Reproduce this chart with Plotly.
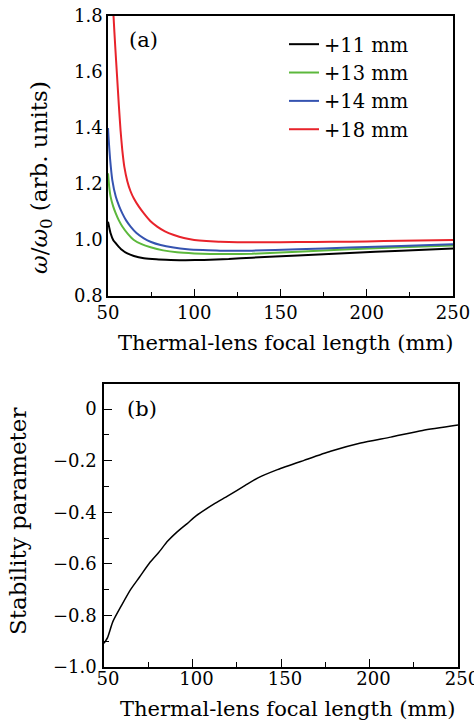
import plotly.graph_objects as go

# ---- Panel (a) data ----
x_11 = [50, 50.7, 51.5, 53, 55.4, 58, 61.2, 65, 70.8, 78, 86.3, 95, 105.6, 120, 133.5, 160, 190, 220, 250]
y_11 = [1.065, 1.045, 1.024, 1.0, 0.982, 0.965, 0.952, 0.943, 0.935, 0.931, 0.929, 0.928, 0.929, 0.932, 0.937, 0.945, 0.954, 0.962, 0.970]

x_13 = [50, 50.7, 51.5, 53, 54.5, 56.3, 58.3, 61.5, 65, 69.5, 74.7, 82, 90, 100, 109.4, 120, 133.5, 160, 190, 220, 250]
y_13 = [1.238, 1.19, 1.155, 1.12, 1.095, 1.07, 1.048, 1.022, 1.0, 0.985, 0.974, 0.963, 0.956, 0.952, 0.950, 0.950, 0.951, 0.958, 0.967, 0.974, 0.980]

x_14 = [50, 50.5, 51.2, 52.5, 54.5, 56.5, 58.3, 60.5, 63.1, 66.5, 70.8, 75, 80.5, 88, 96, 105, 115, 133.5, 160, 190, 220, 250]
y_14 = [1.40, 1.35, 1.29, 1.214, 1.155, 1.12, 1.095, 1.07, 1.048, 1.025, 1.006, 0.993, 0.982, 0.973, 0.967, 0.964, 0.962, 0.962, 0.967, 0.973, 0.979, 0.985]

x_18 = [52.6, 53.2, 54.2, 55.2, 56.3, 57.3, 58.3, 59.5, 61.2, 63, 65, 67.8, 70.8, 74.5, 78.5, 83, 88.2, 94, 100, 107, 115, 125, 135, 150, 170, 190, 210, 230, 250]
y_18 = [1.92, 1.80, 1.69, 1.59, 1.48, 1.39, 1.32, 1.26, 1.21, 1.175, 1.148, 1.12, 1.095, 1.068, 1.048, 1.031, 1.018, 1.007, 1.0, 0.996, 0.994, 0.992, 0.992, 0.992, 0.993, 0.994, 0.996, 0.998, 1.0]

series_names = ["+11 mm", "+13 mm", "+14 mm", "+18 mm"]
series_colors = ["#000000", "#5cb83c", "#3553b0", "#e8232b"]

# ---- Panel (b) data ----
x_stab = [50, 52, 55, 60, 65, 70, 76, 81, 86, 91, 97, 102, 112, 120, 130, 137, 148, 163, 178, 195, 212, 230, 250]
y_stab = [-0.908, -0.886, -0.824, -0.760, -0.700, -0.652, -0.594, -0.555, -0.512, -0.478, -0.444, -0.414,
          -0.369, -0.337, -0.295, -0.267, -0.235, -0.199, -0.164, -0.132, -0.109, -0.083, -0.062]

x_ticks = [50, 100, 150, 200, 250]
x_ticktext = ["50", "100", "150", "200", "250"]
ya_ticks = [0.8, 1.0, 1.2, 1.4, 1.6, 1.8]
ya_ticktext = ["0.8", "1.0", "1.2", "1.4", "1.6", "1.8"]
yb_ticks = [-1.0, -0.8, -0.6, -0.4, -0.2, 0]
yb_ticktext = ["−1.0", "−0.8", "−0.6", "−0.4", "−0.2", "0"]

W, H = 474, 725
FONT = "DejaVu Serif"

fig = go.Figure()
for xs, ys, name, col in zip([x_11, x_13, x_14, x_18], [y_11, y_13, y_14, y_18], series_names, series_colors):
    fig.add_trace(go.Scatter(x=xs, y=ys, mode="lines", name=name,
                             line=dict(color=col, width=2, shape="spline", smoothing=0.5),
                             xaxis="x", yaxis="y"))
fig.add_trace(go.Scatter(x=x_stab, y=y_stab, mode="lines", showlegend=False,
                         line=dict(color="black", width=1.5, shape="spline", smoothing=0.6),
                         xaxis="x2", yaxis="y2"))

def px_x(p):
    return p / W

def px_y(p):
    return 1 - p / H

axis_common = dict(showline=True, linecolor="black", linewidth=1.5, mirror=True,
                   showgrid=False, zeroline=False, automargin=False,
                   ticklabeloverflow="allow",
                   tickfont=dict(family=FONT, size=18, color="black"))

fig.update_layout(
    width=W, height=H,
    margin=dict(l=0, r=0, t=0, b=0),
    paper_bgcolor="white", plot_bgcolor="white",
    font=dict(family=FONT, color="black"),
    showlegend=True,
    legend=dict(x=px_x(284), y=px_y(25), xanchor="left", yanchor="top",
                bgcolor="rgba(0,0,0,0)", font=dict(family=FONT, size=19.5, color="black"),
                tracegroupgap=0),
    xaxis=dict(domain=[px_x(108), px_x(453)], range=[50, 250], anchor="y",
               tickvals=x_ticks, ticktext=x_ticktext, ticks="inside", ticklen=7, tickwidth=1.2,
               tickcolor="black",
               minor=dict(tickvals=[75, 125, 175, 225], ticks="inside", ticklen=4, tickcolor="black"),
               **axis_common),
    yaxis=dict(domain=[px_y(296), px_y(16)], range=[0.8, 1.8], anchor="x",
               tickvals=ya_ticks, ticktext=ya_ticktext,
               ticks="", **axis_common),
    xaxis2=dict(domain=[px_x(104), px_x(458)], range=[50, 250], anchor="y2",
                tickvals=x_ticks, ticktext=x_ticktext, ticks="inside", ticklen=8, tickwidth=1.2,
                tickcolor="black", ticklabelstandoff=-5, ticklabelshift=4,
                minor=dict(tickvals=[75, 125, 175, 225], ticks="inside", ticklen=5, tickcolor="black"),
                **axis_common),
    yaxis2=dict(domain=[px_y(667), px_y(384)], range=[-1.0, 0.097], anchor="x2",
                tickvals=yb_ticks, ticktext=yb_ticktext,
                ticks="inside", ticklen=8, tickwidth=1.2, tickcolor="black", ticklabelstandoff=2,
                minor=dict(tickvals=[-0.9, -0.7, -0.5, -0.3, -0.1], ticks="inside", ticklen=5, tickcolor="black"),
                **axis_common),
)

annots = [
    dict(text="(a)", x=px_x(143), y=px_y(40), size=21, angle=0),
    dict(text="(b)", x=px_x(142), y=px_y(409), size=21, angle=0),
    dict(text="Thermal-lens focal length (mm)", x=px_x(285), y=px_y(343), size=21, angle=0),
    dict(text="Thermal-lens focal length (mm)", x=px_x(287), y=px_y(709), size=21, angle=0),
    dict(text="<i>ω</i>/<i>ω</i><sub>0</sub> (arb. units)", x=px_x(41), y=px_y(178), size=23, angle=-90),
    dict(text="Stability parameter", x=px_x(18), y=px_y(522), size=23, angle=-90),
]
for a in annots:
    fig.add_annotation(text=a["text"], x=a["x"], y=a["y"], xref="paper", yref="paper",
                       xanchor="center", yanchor="middle", showarrow=False, textangle=a["angle"],
                       font=dict(family=FONT, size=a["size"], color="black"))

fig.write_html("out.html")
